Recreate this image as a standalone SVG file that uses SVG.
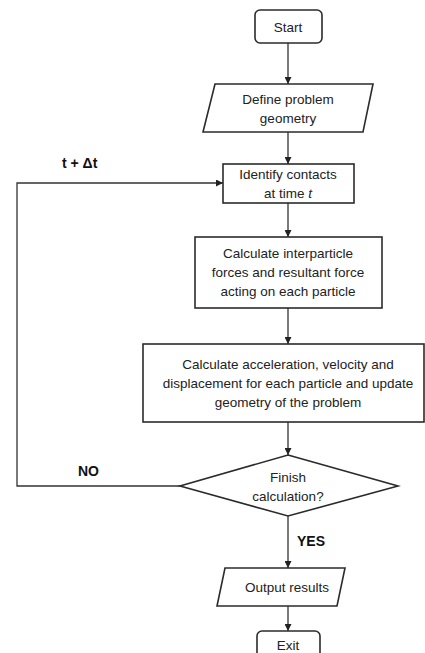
<svg xmlns="http://www.w3.org/2000/svg" width="425" height="653" viewBox="0 0 425 653">
<defs>
<style>
.n{fill:#fff;stroke:#2b2b2b;stroke-width:1.6}
.c{fill:none;stroke:#333;stroke-width:1.3}
.t{font-family:"Liberation Sans",Arial,sans-serif;font-size:13.5px;fill:#222;text-anchor:middle}
.b{font-family:"Liberation Sans",Arial,sans-serif;font-size:14px;font-weight:bold;fill:#111}
</style>
<marker id="ah" viewBox="0 0 10 10" refX="10" refY="5" markerWidth="7" markerHeight="7" orient="auto" markerUnits="userSpaceOnUse">
<path d="M0,0 L10,5 L0,10 z" fill="#222"/>
</marker>
</defs>
<rect width="425" height="653" fill="#fff"/>
<g id="connectors">
<line class="c" x1="288" y1="43" x2="288" y2="84" marker-end="url(#ah)"/>
<line class="c" x1="288" y1="132" x2="288" y2="164" marker-end="url(#ah)"/>
<line class="c" x1="288" y1="203" x2="288" y2="237" marker-end="url(#ah)"/>
<line class="c" x1="288" y1="308" x2="288" y2="344" marker-end="url(#ah)"/>
<line class="c" x1="288" y1="422" x2="288" y2="455" marker-end="url(#ah)"/>
<polyline class="c" points="180,486 17,486 17,183 223,183" marker-end="url(#ah)"/>
<line class="c" x1="288" y1="516" x2="288" y2="568" marker-end="url(#ah)"/>
<line class="c" x1="288" y1="606" x2="288" y2="631" marker-end="url(#ah)"/>
<text class="b" x="62" y="168" font-size="15">t + Δt</text>
<text class="b" x="78" y="476">NO</text>
<text class="b" x="297" y="546">YES</text>
</g>
<g id="start">
<rect class="n" x="255" y="10" width="67" height="33" rx="5"/>
<text class="t" x="288" y="32">Start</text>
</g>
<g id="define">
<polygon class="n" points="215,84 373,84 363,132 203,132"/>
<text class="t" x="288" y="104">Define problem</text>
<text class="t" x="288" y="123">geometry</text>
</g>
<g id="identify">
<rect class="n" x="223" y="164" width="131" height="39"/>
<text class="t" x="288" y="179">Identify contacts</text>
<text class="t" x="288" y="198">at time <tspan font-style="italic">t</tspan></text>
</g>
<g id="forces">
<rect class="n" x="195" y="237" width="187" height="71"/>
<text class="t" x="288" y="258">Calculate interparticle</text>
<text class="t" x="288" y="277">forces and resultant force</text>
<text class="t" x="288" y="296">acting on each particle</text>
</g>
<g id="update">
<rect class="n" x="143" y="344" width="281" height="78"/>
<text class="t" x="288" y="369">Calculate acceleration, velocity and</text>
<text class="t" x="288" y="388">displacement for each particle and update</text>
<text class="t" x="288" y="407">geometry of the problem</text>
</g>
<g id="finish">
<polygon class="n" points="288,455 398,486 288,516 180,486"/>
<text class="t" x="288" y="482">Finish</text>
<text class="t" x="288" y="501">calculation?</text>
</g>
<g id="output">
<polygon class="n" points="225,568 345,568 337,606 217,606"/>
<text class="t" x="287" y="592">Output results</text>
</g>
<g id="exit">
<rect class="n" x="257" y="631" width="63" height="40" rx="5"/>
<text class="t" x="288" y="650">Exit</text>
</g>
</svg>
